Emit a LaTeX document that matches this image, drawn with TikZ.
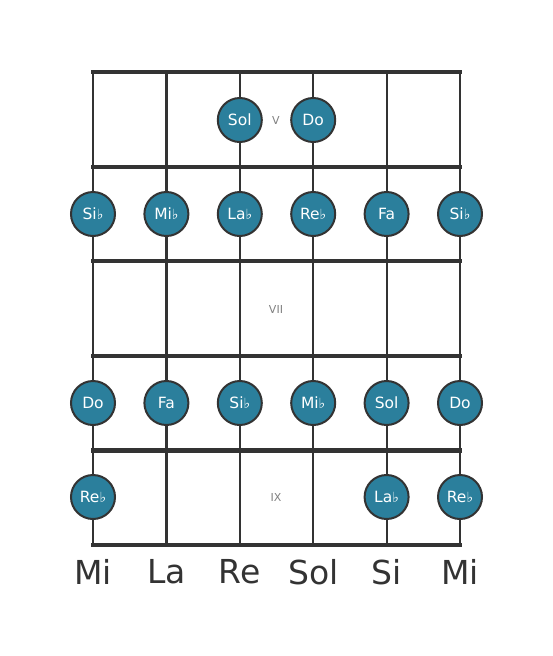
\documentclass[tikz,border=0pt]{standalone}
\usepackage{fontspec}
\setmainfont{DejaVu Sans}
\usetikzlibrary{positioning}
\definecolor{notefill}{HTML}{2B7F9C}
\definecolor{linegray}{HTML}{333333}
\tikzset{
  note/.style={circle, draw=linegray, line width=2pt, fill=notefill, minimum size=44pt, inner sep=0pt, text=white, font=\fontsize{15.5}{15.5}\selectfont},
  fretnum/.style={text=gray, font=\fontsize{11}{11}\selectfont},
  strname/.style={text=linegray, font=\fontsize{33}{33}\selectfont}
}
\newcommand{\fl}{{\fontsize{14}{14}\selectfont\char"266D}}

\begin{document}
\begin{tikzpicture}[x=1pt, y=-1pt]
		\useasboundingbox (0, 0) rectangle (553, 656);
		% strings
		\foreach \s/\x in {1/93, 2/166.4, 3/239.8, 4/313.2, 5/386.6, 6/460} {
			\coordinate (top\s) at (\x, 72);
			\coordinate (bot\s) at (\x, 545);
			\draw [linegray, line width=2.2pt] (top\s) -- (bot\s);
		}
		% frets
		\foreach \f/\y in {0/72, 1/166.6, 2/261.2, 3/355.8, 4/450.4, 5/545} {
			\coordinate (fl\f) at (93, \y);
			\coordinate (fr\f) at (460, \y);
			\draw [linegray, line width=4.2pt, line cap=rect] (fl\f) -- (fr\f);
		}
		\node [fretnum] (pos5) at (276, 120) {V};
		\node [fretnum] (pos7) at (276, 309) {VII};
		\node [fretnum] (pos9) at (276, 497) {IX};
		% notes
		\node [note] (n1c) at (239.8, 120) {Sol};
		\node [note] (n1d) at (313.2, 120) {Do};
		\node [note] (n2a) at (93, 214) {Si\fl};
		\node [note] (n2b) at (166.4, 214) {Mi\fl};
		\node [note] (n2c) at (239.8, 214) {La\fl};
		\node [note] (n2d) at (313.2, 214) {Re\fl};
		\node [note] (n2e) at (386.6, 214) {Fa};
		\node [note] (n2f) at (460, 214) {Si\fl};
		\node [note] (n4a) at (93, 403) {Do};
		\node [note] (n4b) at (166.4, 403) {Fa};
		\node [note] (n4c) at (239.8, 403) {Si\fl};
		\node [note] (n4d) at (313.2, 403) {Mi\fl};
		\node [note] (n4e) at (386.6, 403) {Sol};
		\node [note] (n4f) at (460, 403) {Do};
		\node [note] (n5a) at (93, 497) {Re\fl};
		\node [note] (n5e) at (386.6, 497) {La\fl};
		\node [note] (n5f) at (460, 497) {Re\fl};
		% open strings
		\foreach \s/\n in {1/Mi, 2/La, 3/Re, 4/Sol, 5/Si, 6/Mi}
			\node [strname, below=11pt of bot\s] (name\s) {\n};
	\end{tikzpicture}
\end{document}
